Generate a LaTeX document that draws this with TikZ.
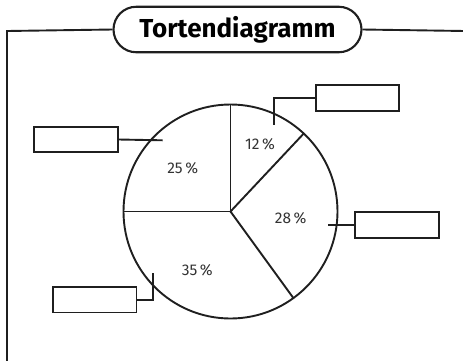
\documentclass[tikz,border=0pt]{standalone}
\usepackage{fontspec}
\setmainfont{Fira Sans}
\usetikzlibrary{shapes.misc}
\begin{document}
\begin{tikzpicture}[x=1pt,y=-1pt,
  line/.style={line width=1.9pt,draw=black!88},
  lbox/.style={draw=black!88,line width=1.9pt,fill=white,minimum width=83.5pt,minimum height=25.5pt,inner sep=0pt},
  pct/.style={font=\fontsize{15.5}{17}\selectfont,text=black!80},
  titlebox/.style={draw=black!88,line width=2.1pt,fill=white,rounded rectangle,minimum width=248pt,minimum height=45.5pt,inner sep=0pt,font=\fontsize{26}{29}\selectfont\bfseries}]
\useasboundingbox (0,0) rectangle (463,360);
% frame
\coordinate (fbot) at (7,362);
\coordinate (fcorner) at (7,31);
\coordinate (fright) at (465,31);
\node[titlebox] (title) at (237.5,29.5) {Tortendiagramm};
\draw[line] (fbot) -- (fcorner) -- (title.west);
\draw[line] (title.east) -- (fright);
% pie
\coordinate (c) at (230.5,211.5);
\def\R{107}
\draw[line] (c) circle[radius=\R];
\draw[line] (c) -- ++(-90:\R) coordinate (s1);
\draw[line] (c) -- ++(-46.8:\R) coordinate (s2);
\draw[line] (c) -- ++(54:\R) coordinate (s3);
\draw[line] (c) -- ++(180:\R) coordinate (s4);
\node[pct] (p12) at (260,144.5) {12\,\%};
\node[pct] (p28) at (290.7,218) {28\,\%};
\node[pct] (p25) at (182.7,168.5) {25\,\%};
\node[pct] (p35) at (197.3,270) {35\,\%};
% boxes
\node[lbox] (b1) at (357.5,98) {};
\node[lbox] (b2) at (397,225) {};
\node[lbox] (b3) at (76,139.5) {};
\node[lbox] (b4) at (94.7,299.7) {};
% connectors
\coordinate (e1) at (274,124.5);
\coordinate (e2) at (327.7,225);
\coordinate (e3) at (162.7,140.3);
\coordinate (e4) at (153.3,272.7);
\draw[line] (b1.west) -| (e1);
\draw[line] (b2.west) -- (e2);
\draw[line] (b3.east) -- (e3);
\draw[line] (b4.east) -| (e4);
\end{tikzpicture}
\end{document}
